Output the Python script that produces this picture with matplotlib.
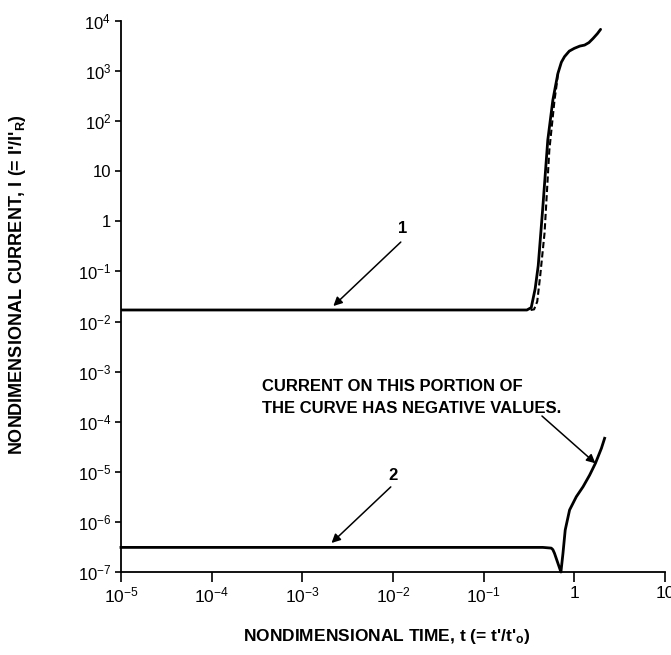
import numpy as np
import matplotlib
matplotlib.use("Agg")
import matplotlib.pyplot as plt

plt.rcParams['font.family'] = ['Liberation Sans', 'DejaVu Sans']
plt.rcParams['mathtext.default'] = 'regular'

# curve 1 (solid)
t1 = [1e-5, 1e-4, 1e-3, 1e-2, 0.1, 0.30, 0.335, 0.37, 0.40, 0.45, 0.51, 0.58, 0.62,
      0.66, 0.72, 0.78, 0.88, 1.0, 1.15, 1.30, 1.45, 1.61, 1.8, 1.95]
i1 = [0.017, 0.017, 0.017, 0.017, 0.017, 0.017, 0.019, 0.045, 0.13, 1.95, 42, 263, 500,
      900, 1500, 1940, 2500, 2840, 3150, 3300, 3700, 4470, 5600, 6800]

# curve 1 (dashed)
t1d = [0.33, 0.36, 0.39, 0.42, 0.47, 0.53, 0.605, 0.64, 0.66]
i1d = [0.017, 0.0175, 0.025, 0.08, 0.59, 26, 263, 550, 900]

# curve 2
t2 = [1e-5, 1e-4, 1e-3, 1e-2, 0.1, 0.45, 0.557, 0.58, 0.605, 0.66, 0.712,
      0.75, 0.794, 0.887, 1.052, 1.25, 1.476, 1.71, 1.99, 2.16]
i2 = [3.1e-7, 3.1e-7, 3.1e-7, 3.1e-7, 3.1e-7, 3.1e-7, 3.0e-7, 2.8e-7, 2.36e-7, 1.49e-7, 1.0e-7,
      2.36e-7, 6.9e-7, 1.73e-6, 3.18e-6, 5.05e-6, 8.6e-6, 1.48e-5, 2.94e-5, 4.67e-5]

xticks = [1e-5, 1e-4, 1e-3, 1e-2, 1e-1, 1, 10]
xlabels = ['$10^{-5}$', '$10^{-4}$', '$10^{-3}$', '$10^{-2}$', '$10^{-1}$', '1', '10']
yticks = [1e-7, 1e-6, 1e-5, 1e-4, 1e-3, 1e-2, 1e-1, 1, 10, 1e2, 1e3, 1e4]
ylabels = ['$10^{-7}$', '$10^{-6}$', '$10^{-5}$', '$10^{-4}$', '$10^{-3}$', '$10^{-2}$',
           '$10^{-1}$', '1', '10', '$10^{2}$', '$10^{3}$', '$10^{4}$']

fig = plt.figure(figsize=(6.71, 6.55), dpi=100)
ax = fig.add_axes([0.1803, 0.1267, 0.8107, 0.8413])

ax.plot(t1, i1, color='black', lw=2.0, solid_capstyle='round')
ax.plot(t1d, i1d, color='black', lw=1.5, linestyle=(0, (3, 1.5)))
ax.plot(t2, i2, color='black', lw=2.0, clip_on=False)

ax.set_xscale('log')
ax.set_yscale('log')
ax.set_xlim(1e-5, 10)
ax.set_ylim(1e-7, 1e4)
ax.set_xticks(xticks)
ax.set_xticklabels(xlabels)
ax.set_yticks(yticks)
ax.set_yticklabels(ylabels)
ax.minorticks_off()

for s in ['top', 'right']:
    ax.spines[s].set_visible(False)
for s in ['left', 'bottom']:
    ax.spines[s].set_linewidth(1.3)

ax.tick_params(axis='x', direction='out', length=7, width=1.2, pad=3, labelsize=12.5)
ax.tick_params(axis='y', direction='out', length=4, width=1.2, pad=3, labelsize=12)

ax.set_xlabel("NONDIMENSIONAL TIME, t (= t'/t'$_o$)", fontsize=12.5, fontweight='bold')
ax.xaxis.set_label_coords(0.488, -0.100)
ax.set_ylabel("NONDIMENSIONAL CURRENT, I (= I'/I'$_R$)", fontsize=13, fontweight='bold')
ax.yaxis.set_label_coords(-0.171, 0.521)

arrow = dict(arrowstyle='-|>', color='black', lw=1.1, mutation_scale=13, shrinkA=0, shrinkB=0)

ax.annotate('', xy=(2.2e-3, 0.0204), xytext=(0.0122, 0.386), arrowprops=arrow)
ax.text(0.0128, 0.73, '1', fontsize=12, fontweight='bold', ha='center', va='center')

ax.annotate('', xy=(2.1e-3, 3.8e-7), xytext=(9.46e-3, 5.0e-6), arrowprops=arrow)
ax.text(9.9e-3, 8.6e-6, '2', fontsize=12, fontweight='bold', ha='center', va='center')

ax.text(3.63e-4, 4.16e-4, 'CURRENT ON THIS PORTION OF', fontsize=12, fontweight='bold',
        ha='left', va='baseline')
ax.text(3.63e-4, 1.47e-4, 'THE CURVE HAS NEGATIVE VALUES.', fontsize=12, fontweight='bold',
        ha='left', va='baseline')
ax.annotate('', xy=(1.71, 1.48e-5), xytext=(0.44, 1.3e-4), arrowprops=arrow)

fig.savefig('out.png', dpi=100)
